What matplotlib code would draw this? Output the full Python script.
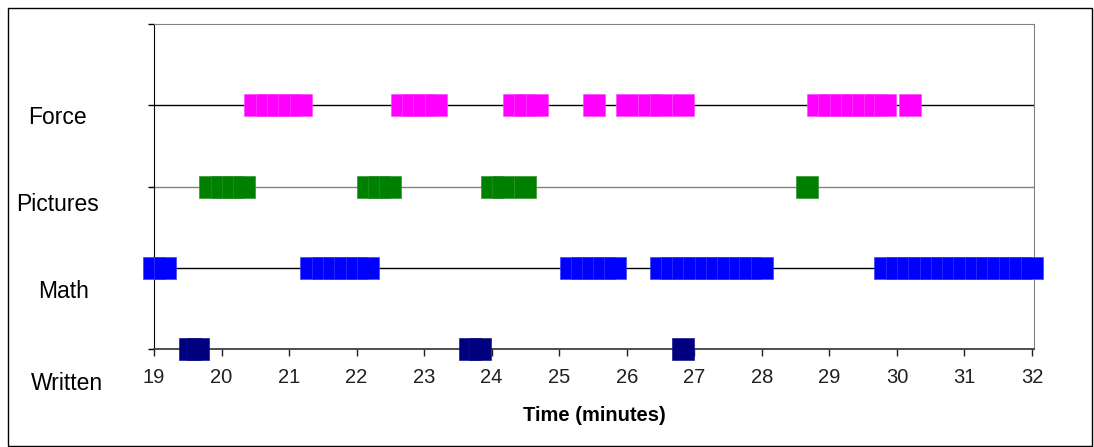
import matplotlib
matplotlib.use('Agg')
import matplotlib.pyplot as plt
from matplotlib.patches import Rectangle

plt.rcParams['font.family'] = ['Liberation Sans', 'DejaVu Sans']

# time stamps (minutes) at which each activity was observed
force_t = [20.5, 20.67, 20.83, 21.0, 21.17,
           22.67, 22.83, 23.0, 23.17,
           24.33, 24.5, 24.67,
           25.52,
           26.0, 26.33, 26.5, 26.83,
           28.83, 29.0, 29.17, 29.33, 29.5, 29.67, 29.83,
           30.19]
pictures_t = [19.83, 20.0, 20.17, 20.33,
              22.17, 22.33, 22.5,
              24.0, 24.17, 24.5,
              28.67]
math_t = [19.0, 19.16,
          21.33, 21.5, 21.67, 21.83, 22.0, 22.17,
          25.17, 25.33, 25.5, 25.67, 25.83,
          26.5, 26.67, 26.83, 27.0, 27.17, 27.33, 27.5, 27.67, 27.83, 28.0,
          29.83, 30.0, 30.17, 30.33, 30.5, 30.67, 30.83, 31.0, 31.17, 31.33,
          31.5, 31.67, 31.83, 32.0]
written_t = [19.53, 19.65,
             23.68, 23.82,
             26.84]

rows = ['Written', 'Math', 'Pictures', 'Force']
series = [written_t, math_t, pictures_t, force_t]
colors = ['#000080', '#0000FF', '#008000', '#FF00FF']
edges = ['#10108A', '#3A3AFF', '#2A922A', '#FF45FF']
xticks = list(range(19, 33))

W, H = 1094, 447
fig = plt.figure(figsize=(W / 100, H / 100), dpi=100)
ax = fig.add_axes([154 / W, 1 - 349 / H, (1034 - 154) / W, (349 - 24) / H])

ax.set_xlim(19, 32.03)
ax.set_ylim(0, 4)

# horizontal lines
ax.axhline(1, color='black', lw=1, zorder=1)
ax.axhline(2, color='#808080', lw=1, zorder=1)
ax.axhline(3, color='black', lw=1, zorder=1)

for i, (t, c, e) in enumerate(zip(series, colors, edges)):
    ax.plot(t, [i] * len(t), linestyle='none', marker='s', markersize=15.4,
            markerfacecolor=c, markeredgecolor=e, markeredgewidth=0.45,
            clip_on=False, zorder=5)

ax.spines['top'].set_color('#808080')
ax.spines['right'].set_color('#808080')
ax.spines['bottom'].set_color('#404040')
ax.spines['bottom'].set_linewidth(1.3)
ax.spines['left'].set_color('black')

ax.set_xticks(xticks)
ax.set_xticklabels([str(x) for x in xticks], fontsize=14.5)
ax.tick_params(axis='x', direction='out', length=5, width=1, pad=9, colors='#202020')
ax.set_yticks([0, 1, 2, 3, 4])
ax.set_yticklabels([])
ax.tick_params(axis='y', direction='out', length=4.3, width=1)

# row labels
label_x = [67, 64, 58, 57.5]
label_base = [390, 297.7, 210.7, 124]
for name, lx, ly in zip(rows, label_x, label_base):
    fig.text(lx / W, 1 - ly / H, name, ha='center', va='baseline', fontsize=16.5)

fig.text(594 / W, 1 - 421 / H, 'Time (minutes)', ha='center', va='baseline',
         fontsize=14.5, fontweight='bold')

fig.patches.append(Rectangle((8 / W, 1 / H), (1092 - 8) / W, (446 - 8) / H,
                             transform=fig.transFigure, fill=False,
                             edgecolor='black', lw=1))

fig.savefig('out.png', dpi=100)
plt.close('all')
